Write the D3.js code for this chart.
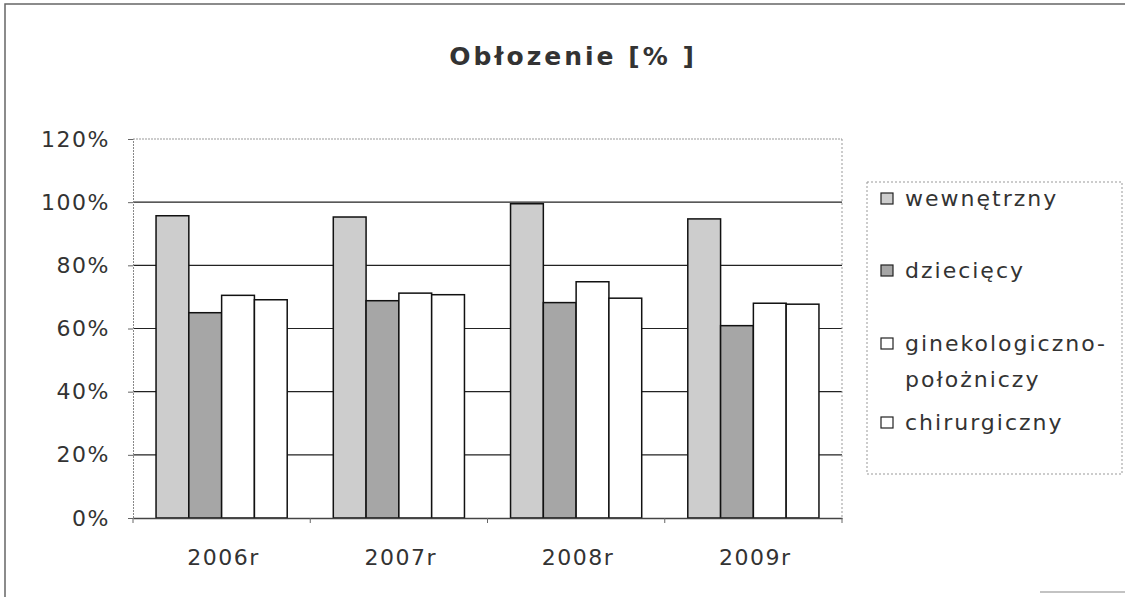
<!DOCTYPE html>
<html><head><meta charset="utf-8">
<script src="https://cdn.jsdelivr.net/npm/d3@7"></script>
<style>body{margin:0;background:#fff}svg{display:block}</style>
</head><body>
<svg id="c" width="1125" height="597"></svg>
<script>
const categories = ["2006r","2007r","2008r","2009r"];
const seriesNames = ["wewnętrzny","dziecięcy","ginekologiczno-położniczy","chirurgiczny"];
const wewnetrzny = [95.7, 95.3, 99.5, 94.7];
const dzieciecy = [65.0, 68.8, 68.2, 60.9];
const ginekologiczny = [70.5, 71.2, 74.8, 68.0];
const chirurgiczny = [69.1, 70.7, 69.6, 67.7];
const yTicks = [0,20,40,60,80,100,120];
const title = "Obłozenie [% ]";

const seriesVals = [wewnetrzny, dzieciecy, ginekologiczny, chirurgiczny];
const fills = ["#cdcdcd","#a6a6a6","#ffffff","#ffffff"];
const font = "'DejaVu Sans', Verdana, sans-serif";

const svg = d3.select("#c");
const m = {l:133, t:139, r:842, b:518};

// outer border
svg.append("path").attr("d","M5,597 L5,4 L1125,4").attr("fill","none").attr("stroke","#666").attr("stroke-width",1.5);
svg.append("line").attr("x1",1040).attr("x2",1125).attr("y1",592).attr("y2",592).attr("stroke","#888").attr("stroke-width",1.2);

svg.append("text").attr("x",573).attr("y",65).attr("text-anchor","middle")
  .attr("font-family",font).attr("font-weight","bold").attr("font-size",25)
  .attr("letter-spacing","3px").attr("fill","#333").text(title);

const x = d3.scaleBand().domain(categories).range([m.l,m.r]).paddingInner(0.26).paddingOuter(0.13);
const xs = d3.scaleBand().domain(d3.range(seriesNames.length)).range([0,x.bandwidth()]);
const y = d3.scaleLinear().domain([0,120]).range([m.b,m.t]);

// gridlines
svg.append("g").selectAll("line").data(yTicks.filter(d=>d>0)).join("line")
  .attr("x1",m.l).attr("x2",m.r).attr("y1",d=>y(d)).attr("y2",d=>y(d))
  .attr("stroke",d=>d===120?"#999":"#222").attr("stroke-width",d=>d===120?1:1.1)
  .attr("stroke-dasharray",d=>d===120?"2,1":null);
// plot right border
svg.append("line").attr("x1",m.r).attr("x2",m.r).attr("y1",m.t).attr("y2",m.b)
  .attr("stroke","#999").attr("stroke-dasharray","2,2");

// bars
const data = [];
categories.forEach((c,i)=>seriesVals.forEach((s,j)=>data.push({c,j,v:s[i]})));
svg.append("g").selectAll("rect").data(data).join("rect")
  .attr("x",d=>x(d.c)+xs(d.j)).attr("width",xs.bandwidth())
  .attr("y",d=>y(d.v)).attr("height",d=>y(0)-y(d.v))
  .attr("fill",d=>fills[d.j]).attr("stroke","#111").attr("stroke-width",1.5);

// y axis
const ya = d3.axisLeft(y).tickValues(yTicks).tickFormat(d=>d+"%").tickSize(5).tickPadding(20);
const yg = svg.append("g").attr("transform",`translate(${m.l},0)`).call(ya);
yg.select(".domain").attr("stroke","#888").attr("stroke-dasharray","2,1");
yg.selectAll(".tick line").attr("stroke","#666");
yg.selectAll("text").attr("font-family",font).attr("font-size",22).attr("letter-spacing","1.5px")
  .attr("fill","#333").attr("dx","2");

// x axis
const xa = d3.axisBottom(x).tickSize(0).tickPadding(31);
const xg = svg.append("g").attr("transform",`translate(0,${m.b})`).call(xa);
xg.select(".domain").attr("stroke","#444").attr("stroke-width",1.3);
xg.selectAll("text").attr("font-family",font).attr("font-size",22).attr("letter-spacing","1.5px")
  .attr("fill","#333").attr("dx","2");
// category boundary ticks
const bounds = categories.slice(1).map(c=>x(c)-x.step()*x.paddingInner()/2);
bounds.unshift(m.l); bounds.push(m.r);
svg.append("g").selectAll("line").data(bounds).join("line")
  .attr("x1",d=>d).attr("x2",d=>d).attr("y1",m.b).attr("y2",m.b+5).attr("stroke","#666");

// legend
const lg = svg.append("g");
lg.append("rect").attr("x",867).attr("y",182).attr("width",255).attr("height",292)
  .attr("fill","none").attr("stroke","#999").attr("stroke-dasharray","2,2");
const legendRows = [
  {i:0, lines:["wewnętrzny"], y:206},
  {i:1, lines:["dziecięcy"], y:278},
  {i:2, lines:["ginekologiczno-","położniczy"], y:351},
  {i:3, lines:["chirurgiczny"], y:430}
];
legendRows.forEach(r=>{
  lg.append("rect").attr("x",881).attr("y",r.y-13).attr("width",12).attr("height",11)
    .attr("fill",fills[r.i]).attr("stroke","#222").attr("stroke-width",1.2);
  const t = lg.append("text").attr("x",905).attr("y",r.y).attr("font-family",font)
    .attr("font-size",22).attr("letter-spacing","2px").attr("fill","#333");
  r.lines.forEach((ln,k)=>t.append("tspan").attr("x",905).attr("dy",k?36:0).text(ln));
});
</script>
</body></html>
